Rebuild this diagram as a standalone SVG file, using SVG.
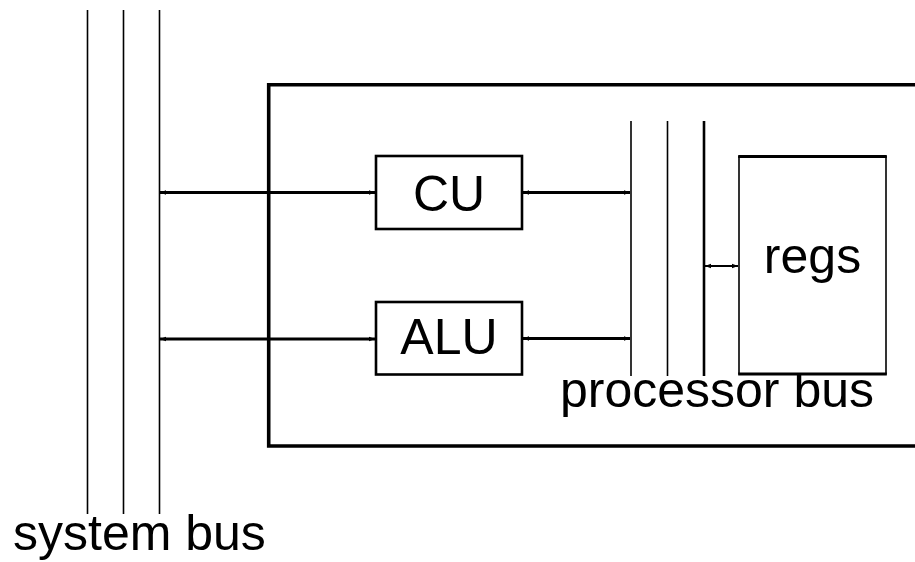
<svg xmlns="http://www.w3.org/2000/svg" width="915" height="562" viewBox="0 0 915 562">
<defs>
<style>
.bus{stroke:#000;stroke-width:1.6;fill:none}
.box{stroke:#000;stroke-width:2.6;fill:#fff}
.conn{stroke:#000;stroke-width:3;fill:none;marker-start:url(#ah);marker-end:url(#ah)}
.lbl{font-family:"Liberation Sans",Arial,sans-serif;font-size:50px;fill:#000}
</style>
<marker id="ah" markerUnits="userSpaceOnUse" markerWidth="7" markerHeight="6" refX="6" refY="3" orient="auto-start-reverse">
<path d="M0,0.8 L6,3 L0,5.2 z" fill="#000"/>
</marker>
</defs>
<rect width="915" height="562" fill="#fff"/>
<g id="system-bus">
<line class="bus" x1="87.5" y1="10" x2="87.5" y2="514"/>
<line class="bus" x1="123.5" y1="10" x2="123.5" y2="514"/>
<line class="bus" x1="159.5" y1="10" x2="159.5" y2="514"/>
<text class="lbl" x="13" y="550">system bus</text>
</g>
<g id="processor">
<path d="M925,84.7 H268.7 V446 H925" fill="none" stroke="#000" stroke-width="3.6"/>
</g>
<g id="processor-bus">
<line class="bus" x1="631" y1="121" x2="631" y2="376"/>
<line class="bus" x1="667.5" y1="121" x2="667.5" y2="376"/>
<line x1="704" y1="121" x2="704" y2="376" stroke="#000" stroke-width="2.6"/>
<text class="lbl" x="717" y="407" text-anchor="middle">processor bus</text>
</g>
<g id="cu">
<rect class="box" x="376" y="156" width="146" height="73"/>
<text class="lbl" x="449" y="211" text-anchor="middle">CU</text>
</g>
<g id="alu">
<rect class="box" x="376" y="302" width="146" height="72.5"/>
<text class="lbl" x="449" y="354" text-anchor="middle">ALU</text>
</g>
<g id="regs">
<rect x="739" y="156" width="147" height="218.5" fill="#fff" stroke="none"/>
<line x1="739" y1="156" x2="739" y2="374.5" stroke="#000" stroke-width="1.6"/>
<line x1="886" y1="156" x2="886" y2="374.5" stroke="#000" stroke-width="1.6"/>
<line x1="738.2" y1="156.5" x2="886.8" y2="156.5" stroke="#000" stroke-width="3"/>
<line x1="738.2" y1="374" x2="886.8" y2="374" stroke="#000" stroke-width="3"/>
<text class="lbl" x="812.5" y="273" text-anchor="middle">regs</text>
</g>
<g id="connectors">
<line class="conn" x1="160" y1="192.5" x2="375" y2="192.5"/>
<line class="conn" x1="160" y1="339" x2="375" y2="339"/>
<line class="conn" x1="523" y1="192.5" x2="630" y2="192.5"/>
<line class="conn" x1="523" y1="338.5" x2="630" y2="338.5"/>
<line x1="705" y1="266" x2="738" y2="266" stroke="#000" stroke-width="1.8" marker-start="url(#ah)" marker-end="url(#ah)"/>
</g>
</svg>
